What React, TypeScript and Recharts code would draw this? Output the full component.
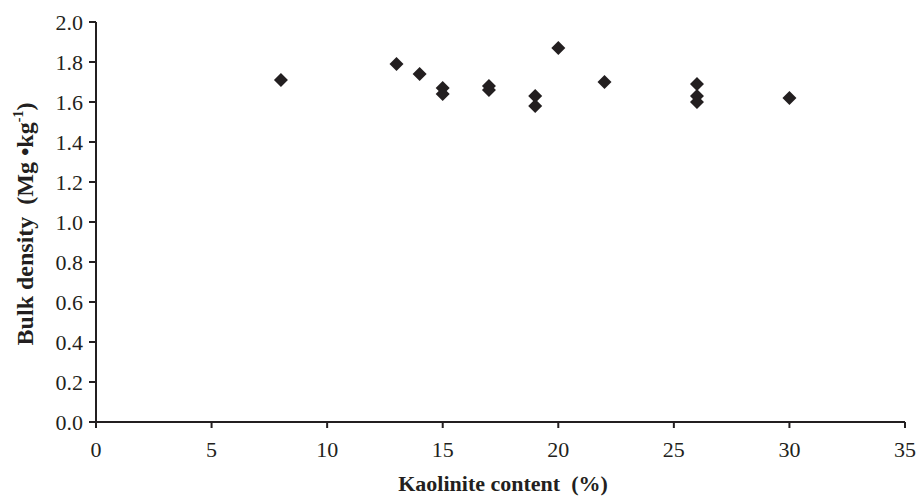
import { ScatterChart, Scatter, XAxis, YAxis } from "recharts";

// kaolinite content (%) and bulk density (Mg·kg-1)
const kaolinite = [8, 13, 14, 15, 15, 17, 17, 19, 19, 20, 22, 26, 26, 26, 30];
const bulkDensity = [1.71, 1.79, 1.74, 1.67, 1.64, 1.68, 1.66, 1.63, 1.58, 1.87, 1.7, 1.69, 1.63, 1.6, 1.62];
const xTicks = [0, 5, 10, 15, 20, 25, 30, 35];
const yTicks = [0, 0.2, 0.4, 0.6, 0.8, 1.0, 1.2, 1.4, 1.6, 1.8, 2.0];

const data = kaolinite.map((k, i) => ({ x: k, y: bulkDensity[i] }));

const ink = "#231f20";
const font = "'Liberation Serif', 'Times New Roman', serif";

const Diamond = (props: any) => {
    const { cx, cy } = props;
    const r = 7;
    return (
        <polygon
            points={`${cx},${cy - r} ${cx + r},${cy} ${cx},${cy + r} ${cx - r},${cy}`}
            fill={ink}
        />
    );
};

const YLabel = () => (
    <text
        x={0}
        y={0}
        transform="translate(33, 224) rotate(-90)"
        textAnchor="middle"
        fontFamily={font}
        fontWeight="bold"
        fontSize={24}
        fill={ink}
    >
        Bulk density{"\u00a0\u00a0"}(Mg •kg
        <tspan fontSize={14} dy={-10}>-1</tspan>
        <tspan dy={10}>)</tspan>
    </text>
);

const XLabel = () => (
    <text
        x={503}
        y={491}
        textAnchor="middle"
        fontFamily={font}
        fontWeight="bold"
        fontSize={22}
        fill={ink}
    >
        Kaolinite content{"\u00a0\u00a0"}(%)
    </text>
);

export default function App() {
    return (
        <div style={{ position: "absolute", left: 0, top: 0, background: "#fff" }}>
            <ScatterChart
                width={917}
                height={497}
                margin={{ top: 22, right: 12, bottom: 0, left: 0 }}
            >
                <XAxis
                    type="number"
                    dataKey="x"
                    domain={[0, 35]}
                    ticks={xTicks}
                    height={75}
                    tickSize={6}
                    tickMargin={13}
                    stroke={ink}
                    strokeWidth={2}
                    tick={{ fontSize: 22, fontFamily: font, fill: ink }}
                    label={<XLabel />}
                />
                <YAxis
                    type="number"
                    dataKey="y"
                    domain={[0, 2]}
                    ticks={yTicks}
                    width={96}
                    tickSize={7}
                    tickMargin={6}
                    stroke={ink}
                    strokeWidth={2}
                    tickFormatter={(v: number) => v.toFixed(1)}
                    tick={{ fontSize: 22, fontFamily: font, fill: ink }}
                    label={<YLabel />}
                />
                <Scatter data={data} shape={<Diamond />} isAnimationActive={false} />
            </ScatterChart>
        </div>
    );
}
